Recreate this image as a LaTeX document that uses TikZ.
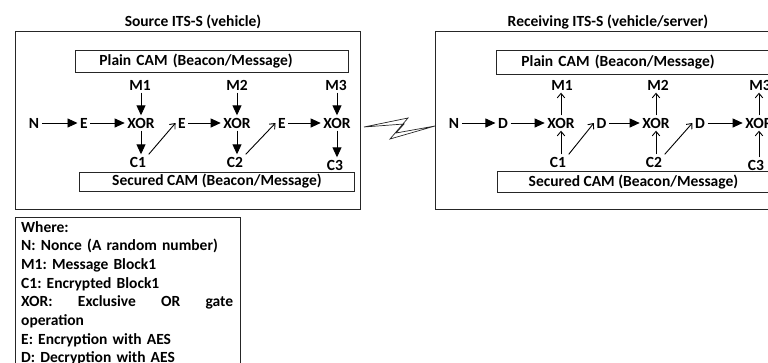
\documentclass[tikz,border=0pt]{standalone}
\usepackage{fontspec}
\setmainfont{Carlito}
\usetikzlibrary{arrows.meta}
\frenchspacing
\begin{document}
\begin{tikzpicture}[x=1pt,y=-1pt,
  txt/.style={font=\fontsize{15.5}{18}\selectfont\bfseries, inner sep=2.5pt,
              text height=10pt, text depth=0pt},
  title/.style={font=\fontsize{15.5}{18}\selectfont\bfseries, inner sep=0pt},
  frame/.style={draw=black!85, line width=0.9pt},
  cambox/.style={frame, font=\fontsize{15.5}{18}\selectfont\bfseries,
                 anchor=north west, inner ysep=0pt},
  solidarrow/.style={-{Triangle[length=10pt,width=9pt]}, line width=0.9pt},
  openarrow/.style={-{Straight Barb[length=4.5pt,width=7.5pt]}, line width=0.9pt}
]
\useasboundingbox (0,0) rectangle (768,362);
\clip (0,0) rectangle (768,362);

% ---------- sender side ----------
\node[title] (srctitle) at (193,22) {Source ITS-S (vehicle)};
\node[frame, anchor=north west, minimum width=345, minimum height=178] (srcbox) at (15,31) {};
\node[cambox, minimum height=22, text width=225, inner xsep=24, align=left] (srcplain) at (75,50) {Plain CAM (Beacon/Message)};
\node[cambox, minimum height=19, minimum width=275, align=center] (srcsecured) at (79,171.5) {Secured CAM (Beacon/Message)};

\node[txt] (sN)  at (34,123)  {N};
\node[txt] (sE1) at (84,123)  {E};
\node[txt] (sX1) at (141,123) {XOR};
\node[txt] (sE2) at (182,123) {E};
\node[txt] (sX2) at (237,123) {XOR};
\node[txt] (sE3) at (282,123) {E};
\node[txt] (sX3) at (337,123) {XOR};
\node[txt] (sM1) at (140,85)  {M1};
\node[txt] (sM2) at (237,85)  {M2};
\node[txt] (sM3) at (336,85)  {M3};
\node[txt] (sC1) at (138,162) {C1};
\node[txt] (sC2) at (235,162) {C2};
\node[txt] (sC3) at (335,165) {C3};

\draw[solidarrow] (sN) -- (sE1);
\draw[solidarrow] (sE1) -- (sX1);
\draw[solidarrow] (sE2) -- (sX2);
\draw[solidarrow] (sE3) -- (sX3);
\foreach \i in {1,2,3}{
  \draw[solidarrow] (sX\i.north |- sM\i.south) -- (sX\i.north);
  \draw[solidarrow] (sX\i.south) -- (sX\i.south |- sC\i.north);
}
\draw[openarrow] (sC1.north east) -- (sE2.west);
\draw[openarrow] (sC2.north east) -- (sE3.west);

% ---------- radio link ----------
\draw[frame, line width=0.7pt] (364,127) -- (408,118) -- (390,139) -- (435,126)
      -- (396,133) -- (404,124) -- cycle;

% ---------- receiver side ----------
\node[title] (rcvtitle) at (608,22) {Receiving ITS-S (vehicle/server)};
\node[frame, anchor=north west, minimum width=400, minimum height=178] (rcvbox) at (435,31) {};
\node[cambox, minimum height=24, text width=240, inner xsep=25, align=left] (rcvplain) at (496,50) {Plain CAM (Beacon/Message)};
\node[cambox, minimum height=21, minimum width=272, align=center] (rcvsecured) at (497,171) {Secured CAM (Beacon/Message)};

\node[txt] (rN)  at (454,123)   {N};
\node[txt] (rD1) at (503,123)   {D};
\node[txt] (rX1) at (561,123)   {XOR};
\node[txt] (rD2) at (601.5,123) {D};
\node[txt] (rX2) at (656,123)   {XOR};
\node[txt] (rD3) at (700,123)   {D};
\node[txt] (rX3) at (759,123)   {XOR};
\node[txt] (rM1) at (562,85)    {M1};
\node[txt] (rM2) at (658,85)    {M2};
\node[txt] (rM3) at (760,85)    {M3};
\node[txt] (rC1) at (558,162)   {C1};
\node[txt] (rC2) at (654,162)   {C2};
\node[txt] (rC3) at (756,165)   {C3};

\draw[solidarrow] (rN) -- (rD1);
\draw[solidarrow] (rD1) -- (rX1);
\draw[solidarrow] (rD2) -- (rX2);
\draw[solidarrow] (rD3) -- (rX3);
\foreach \i in {1,2,3}{
  \draw[openarrow] (rX\i.south |- rC\i.north) -- (rX\i.south);
  \draw[openarrow] (rX\i.north) -- (rX\i.north |- rM\i.south);
}
\draw[openarrow] (rC1.north east) -- (rD2.west);
\draw[openarrow] (rC2.north east) -- (rD3.west);

% ---------- legend ----------
\node[frame, anchor=north west, minimum width=225, minimum height=160] (legendbox) at (15,217) {};
\node[anchor=north west, inner sep=0pt, text width=212, align=left,
      font=\fontsize{15.5}{18.7}\selectfont\bfseries] (legend) at (21,221)
  {Where:\\
   N: Nonce (A random number)\\
   M1: Message Block1\\
   C1: Encrypted Block1\\
   \leavevmode\hbox to 212pt{XOR:\hfill Exclusive\hfill OR\hfill gate}\\
   operation\\
   E: Encryption with AES\\
   D: Decryption with AES};
\end{tikzpicture}
\end{document}
